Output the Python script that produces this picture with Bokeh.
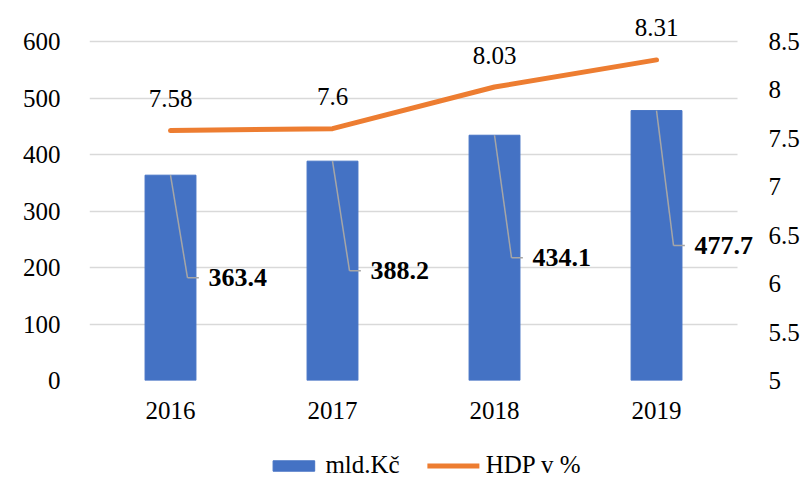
import numpy as np
from bokeh.plotting import figure
from bokeh.layouts import column
from bokeh.models import (Range1d, LinearAxis, FixedTicker, Legend, LegendItem,
                          ColumnDataSource, Label, Grid)
from bokeh.embed import file_html
from bokeh.resources import INLINE

years = ["2016", "2017", "2018", "2019"]
mld_kc = [363.4, 388.2, 434.1, 477.7]
hdp_pct = [7.58, 7.6, 8.03, 8.31]
left_ticks = [0, 100, 200, 300, 400, 500, 600]
right_ticks = [5, 5.5, 6, 6.5, 7, 7.5, 8, 8.5]
series_names = ["mld.Kč", "HDP v %"]

FONT = "Liberation Serif"
FS = "25px"
BLUE = "#4472C4"
ORANGE = "#ED7D31"
GRID = "#D9D9D9"

# layout (pixels): frame spans x 89..760, y 8..380; gridded area ends at x=738, y=41
F_LEFT, F_RIGHT, F_TOP, F_BOTTOM = 89, 760, 8, 380
GRID_RIGHT, GRID_TOP = 738, 41
n = len(years)
x_end = n * (F_RIGHT - F_LEFT) / (GRID_RIGHT - F_LEFT)
l0, l1 = left_ticks[0], left_ticks[-1]
r0, r1 = right_ticks[0], right_ticks[-1]
k = (F_BOTTOM - F_TOP) / (F_BOTTOM - GRID_TOP)
left_end = l0 + (l1 - l0) * k
right_end = r0 + (r1 - r0) * k

xc = np.arange(n) + 0.5
bars = np.array(mld_kc)

p = figure(width=802, height=440, output_backend="svg", toolbar_location=None,
           x_range=Range1d(0, x_end), y_range=Range1d(l0, left_end),
           min_border_left=F_LEFT, min_border_top=F_TOP,
           min_border_right=802 - F_RIGHT, min_border_bottom=440 - F_BOTTOM)
p.outline_line_color = None
p.background_fill_color = "white"
p.border_fill_color = "white"

p.extra_y_ranges = {"right": Range1d(r0, right_end)}

# axes
p.xaxis.ticker = FixedTicker(ticks=list(xc))
p.xaxis.major_label_overrides = {float(x): y for x, y in zip(xc, years)}
p.yaxis.ticker = FixedTicker(ticks=left_ticks)
ra = LinearAxis(y_range_name="right", ticker=FixedTicker(ticks=right_ticks))
ra.major_label_overrides = {t: (str(int(t)) if float(t).is_integer() else str(t)) for t in right_ticks}
p.add_layout(ra, "right")

for ax in [p.xaxis[0], p.yaxis[0], ra]:
    ax.axis_line_color = None
    ax.major_tick_line_color = None
    ax.minor_tick_line_color = None
    ax.major_label_text_font = FONT
    ax.major_label_text_font_size = FS
    ax.major_label_text_color = "black"
p.yaxis[0].major_label_standoff = 23
ra.major_label_standoff = 3
p.xaxis[0].major_label_standoff = 15

p.xgrid.visible = False
p.ygrid.grid_line_color = GRID
p.ygrid.grid_line_width = 1.5
if "cross_bounds" in Grid.properties():
    p.ygrid.cross_bounds = (0, n)

# bars
src = ColumnDataSource(dict(x=xc, top=bars))
p.vbar(x="x", top="top", width=0.314, bottom=0, source=src,
       fill_color=BLUE, line_color=BLUE)

# leader lines
p.segment(x0=xc, y0=bars, x1=xc + 0.105, y1=bars / 2, line_color="#A6A6A6", line_width=1.5)
p.segment(x0=xc + 0.105, y0=bars / 2, x1=xc + 0.175, y1=bars / 2, line_color="#A6A6A6", line_width=1.5)
for x, v in zip(xc, mld_kc):
    p.add_layout(Label(x=x, y=v / 2, text=f"{v:.1f}", x_offset=38,
                       text_align="left", text_baseline="middle", text_font=FONT,
                       text_font_size="26px", text_font_style="bold", text_color="black"))

# line
p.line(x=xc, y=hdp_pct, y_range_name="right", line_color=ORANGE,
       line_width=5, line_cap="round", line_join="round")
for x, v in zip(xc, hdp_pct):
    p.add_layout(Label(x=x, y=v, y_range_name="right", text=str(v),
                       y_offset=32, text_align="center", text_baseline="middle",
                       text_font=FONT, text_font_size=FS, text_color="black"))

# legend strip
q = figure(width=802, height=50, output_backend="svg", toolbar_location=None,
           x_range=Range1d(0, 1), y_range=Range1d(0, 1),
           min_border_left=28, min_border_right=0, min_border_top=0, min_border_bottom=0)
q.axis.visible = False
q.grid.visible = False
q.outline_line_color = None
q.border_fill_color = "white"
q.background_fill_color = "white"
# legend-key renderers without drawable data
lb = q.vbar(x=[np.nan], top=[np.nan], width=0.1, fill_color=BLUE, line_color=BLUE)
ll = q.line(x=[np.nan, np.nan], y=[np.nan, np.nan], line_color=ORANGE, line_width=5, line_cap="round")
legend = Legend(items=[LegendItem(label=series_names[0], renderers=[lb]),
                       LegendItem(label=series_names[1], renderers=[ll])],
                orientation="horizontal", location="center",
                label_text_font=FONT, label_text_font_size=FS, label_text_color="black",
                glyph_width=52, glyph_height=13, label_standoff=6, spacing=28,
                border_line_color=None, background_fill_alpha=0,
                margin=0, padding=0)
q.add_layout(legend)

layout = column(p, q, spacing=0)
open("out.html", "w").write(file_html(layout, INLINE))
